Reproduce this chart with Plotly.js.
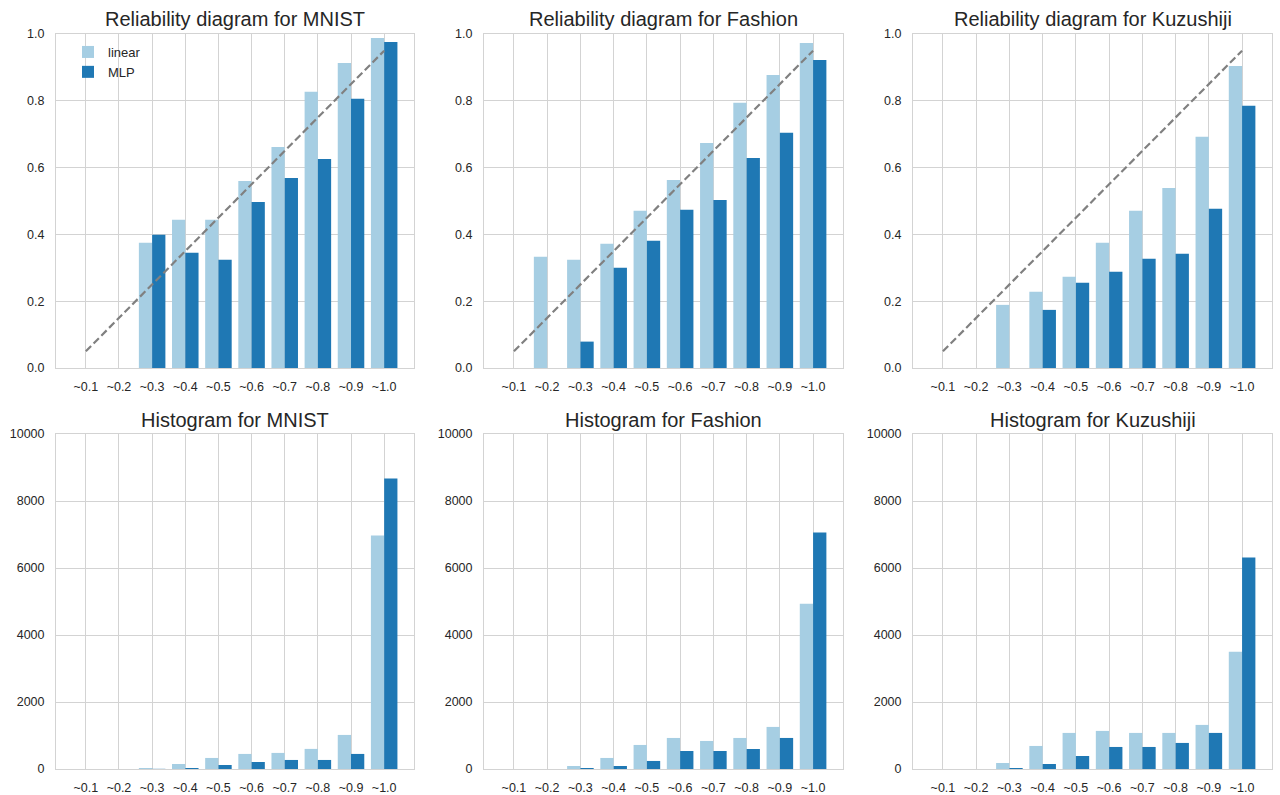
<!DOCTYPE html>
<html>
<head>
<meta charset="utf-8">
<script src="https://cdn.plot.ly/plotly-3.0.1.min.js"></script>
<style>html,body{margin:0;padding:0;background:#fff;}#plot{width:1280px;height:795px;}</style>
</head>
<body>
<div id="plot"></div>
<script>
// ---- data ----
const bins = ["~0.1","~0.2","~0.3","~0.4","~0.5","~0.6","~0.7","~0.8","~0.9","~1.0"];
const diagonal = [0.05,0.15,0.25,0.35,0.45,0.55,0.65,0.75,0.85,0.95];

const mnistRelLinear = [0,0,0.375,0.444,0.444,0.560,0.662,0.827,0.913,0.988];
const mnistRelMLP    = [0,0,0.399,0.345,0.324,0.497,0.569,0.626,0.806,0.976];
const fashionRelLinear = [0,0.333,0.324,0.372,0.471,0.563,0.674,0.794,0.877,0.973];
const fashionRelMLP    = [0,0,0.079,0.300,0.381,0.474,0.503,0.629,0.704,0.922];
const kuzuRelLinear = [0,0,0.189,0.228,0.273,0.375,0.471,0.539,0.692,0.904];
const kuzuRelMLP    = [0,0,0,0.174,0.255,0.288,0.327,0.342,0.477,0.785];

const mnistHistLinear = [0,0,30,150,330,450,480,600,1017,6969];
const mnistHistMLP    = [0,0,5,30,120,210,270,270,450,8674];
const fashionHistLinear = [0,0,90,330,718,927,837,927,1256,4935];
const fashionHistMLP    = [0,0,30,90,240,538,538,598,927,7059];
const kuzuHistLinear = [0,0,180,688,1077,1137,1077,1077,1316,3500];
const kuzuHistMLP    = [0,0,30,150,389,658,658,778,1077,6311];

const seriesNames = ["linear","MLP"];
const datasetNames = ["MNIST","Fashion","Kuzushiji"];

// ---- styling ----
const colLight = "#a6cee3";
const colDark = "#1f78b4";
const gridCol = "#d3d3d3";
const textCol = "#262626";
const fontFam = "'Liberation Sans', Arial, sans-serif";

const relData = [[mnistRelLinear,mnistRelMLP],[fashionRelLinear,fashionRelMLP],[kuzuRelLinear,kuzuRelMLP]];
const histData = [[mnistHistLinear,mnistHistMLP],[fashionHistLinear,fashionHistMLP],[kuzuHistLinear,kuzuHistMLP]];

const traces = [];
const colors = [colLight, colDark];

function axId(n){ return n===1 ? "" : String(n); }

for (let c = 0; c < 3; c++) {
  const nTop = c + 1, nBot = c + 4;
  for (let s = 0; s < 2; s++) {
    traces.push({
      type: "bar", x: bins, y: relData[c][s], name: seriesNames[s],
      marker: {color: colors[s], line: {width: 0}},
      xaxis: "x" + axId(nTop), yaxis: "y" + axId(nTop),
      showlegend: c === 0, legendgroup: seriesNames[s], hoverinfo: "y"
    });
  }
  traces.push({
    type: "scatter", mode: "lines", x: bins, y: diagonal,
    line: {color: "#808080", width: 2.2, dash: "7.5px,3.5px"},
    xaxis: "x" + axId(nTop), yaxis: "y" + axId(nTop),
    showlegend: false, hoverinfo: "skip"
  });
  for (let s = 0; s < 2; s++) {
    traces.push({
      type: "bar", x: bins, y: histData[c][s], name: seriesNames[s],
      marker: {color: colors[s], line: {width: 0}},
      xaxis: "x" + axId(nBot), yaxis: "y" + axId(nBot),
      showlegend: false, legendgroup: seriesNames[s], hoverinfo: "y"
    });
  }
}

const W = 1280, H = 795;
const colPx = [[56,414],[484,843],[913,1272]];
const rowPx = [[34,368],[434,769]];

const layout = {
  width: W, height: H,
  margin: {l:0, r:0, t:0, b:0},
  paper_bgcolor: "#ffffff", plot_bgcolor: "#ffffff",
  font: {family: fontFam, size: 12, color: textCol},
  barmode: "group", bargap: 0.2, bargroupgap: 0,
  showlegend: true,
  legend: {
    x: 68/W, y: 1 - 37/H, xanchor: "left", yanchor: "top",
    bgcolor: "rgba(0,0,0,0)", borderwidth: 0,
    font: {size: 13, color: textCol, family: fontFam},
    tracegroupgap: 0
  },
  annotations: []
};

for (let r = 0; r < 2; r++) {
  for (let c = 0; c < 3; c++) {
    const n = r*3 + c + 1;
    const xa = {
      domain: [colPx[c][0]/W, colPx[c][1]/W],
      anchor: "y" + axId(n),
      type: "category", range: [-0.9, 9.9],
      showgrid: true, gridcolor: gridCol, gridwidth: 1,
      showline: true, linecolor: gridCol, linewidth: 1, mirror: true,
      zeroline: false,
      ticks: "outside", ticklen: 7, tickcolor: "rgba(0,0,0,0)",
      tickfont: {size: 12.5, color: textCol},
      fixedrange: true
    };
    const ya = {
      domain: [1 - rowPx[r][1]/H, 1 - rowPx[r][0]/H],
      anchor: "x" + axId(n),
      range: r === 0 ? [0, 1] : [0, 10000],
      dtick: r === 0 ? 0.2 : 2000, tick0: 0,
      tickformat: r === 0 ? ".1f" : "d",
      showgrid: true, gridcolor: gridCol, gridwidth: 1,
      showline: true, linecolor: gridCol, linewidth: 1, mirror: true,
      zeroline: false,
      ticks: "outside", ticklen: 8, tickcolor: "rgba(0,0,0,0)",
      tickfont: {size: 12.5, color: textCol},
      fixedrange: true
    };
    layout["xaxis" + axId(n)] = xa;
    layout["yaxis" + axId(n)] = ya;
    const title = (r === 0 ? "Reliability diagram for " : "Histogram for ") + datasetNames[c];
    layout.annotations.push({
      text: title, showarrow: false,
      xref: "paper", yref: "paper",
      x: (colPx[c][0] + colPx[c][1]) / 2 / W,
      y: 1 - (r === 0 ? 19 : 420) / H,
      xanchor: "center", yanchor: "middle",
      font: {size: 20, color: textCol, family: fontFam}
    });
  }
}

Plotly.newPlot("plot", traces, layout, {displayModeBar: false, staticPlot: true});
</script>
</body>
</html>
